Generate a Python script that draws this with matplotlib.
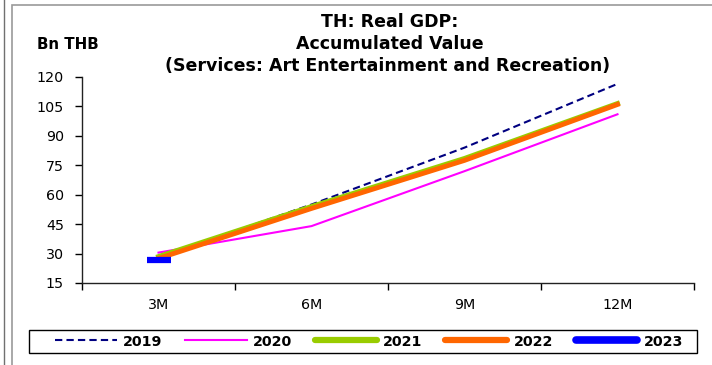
import matplotlib.pyplot as plt
import numpy as np
from matplotlib.patches import Rectangle
from matplotlib.lines import Line2D

plt.rcParams['font.family'] = ['DejaVu Sans']

categories = ["3M", "6M", "9M", "12M"]
v2019 = [28.0, 55.0, 84.0, 116.5]
v2020 = [30.5, 44.0, 72.0, 101.0]
v2021 = [28.5, 54.0, 78.5, 106.5]
v2022 = [27.5, 53.0, 77.5, 106.0]
v2023 = [26.5]
yticks = [15, 30, 45, 60, 75, 90, 105, 120]
years = ['2019', '2020', '2021', '2022', '2023']

W, H = 712, 365
fig = plt.figure(figsize=(W / 100, H / 100), dpi=100)

# frame bits around the chart
fig.add_artist(Rectangle((12 / W, -0.1), 1.2, 1 - 5 / H + 0.1, transform=fig.transFigure,
                         fill=False, edgecolor='#9a9a9a', linewidth=1.2))
fig.add_artist(Line2D([4 / W, 4 / W], [0, 1], transform=fig.transFigure,
                      color='#707070', linewidth=1.0))

ax = fig.add_axes([82 / W, 1 - 283 / H, (694 - 82) / W, (283 - 77) / H])
x = np.arange(len(categories))

ax.plot(x, v2019, color='#000080', lw=1.5, ls=(0, (3.5, 2)))
ax.plot(x, v2020, color='#FF00FF', lw=1.5)
ax.plot(x, v2021, color='#99CC00', lw=3.5)
ax.plot(x, v2022, color='#FF6600', lw=3.5)
ax.plot(x[:len(v2023)], v2023, color='#0000FF', lw=4.5, marker='_', ms=17, mew=4.5)

ax.set_xlim(-0.5, len(categories) - 0.5)
ax.set_ylim(15, 120)
ax.set_yticks(yticks)
ax.set_xticks(x)
ax.set_xticklabels(categories)
ax.set_xticks(np.arange(-0.5, len(categories)), minor=True)
ax.tick_params(axis='x', which='major', length=0, pad=11, labelsize=10.3)
ax.tick_params(axis='x', which='minor', length=5, direction='out', width=1)
ax.tick_params(axis='y', length=5, direction='out', width=1, labelsize=10.3, pad=8)
for s in ['top', 'right']:
    ax.spines[s].set_visible(False)
for s in ['left', 'bottom']:
    ax.spines[s].set_linewidth(1.0)
    ax.spines[s].set_color('#222222')

fig.text(390 / W, 1 - 27 / H, "TH: Real GDP:", ha='center', va='baseline',
         fontsize=12.5, fontweight='bold')
fig.text(390 / W, 1 - 49 / H, "Accumulated Value", ha='center', va='baseline',
         fontsize=12.5, fontweight='bold')
fig.text(388 / W, 1 - 71 / H, "(Services: Art Entertainment and Recreation)",
         ha='center', va='baseline', fontsize=12.5, fontweight='bold')
fig.text(68 / W, 1 - 49 / H, "Bn THB", ha='center', va='baseline',
         fontsize=10.8, fontweight='bold')

# legend box drawn separately so the entries can sit inset like the original
fig.add_artist(Rectangle((29 / W, 1 - 353 / H), 668 / W, 23 / H, transform=fig.transFigure,
                         fill=False, edgecolor='black', linewidth=1.0))
handles = [Line2D([], [], color='#000080', lw=1.5, ls=(0, (3.5, 2))),
           Line2D([], [], color='#FF00FF', lw=1.5),
           Line2D([], [], color='#99CC00', lw=4.5, solid_capstyle='round'),
           Line2D([], [], color='#FF6600', lw=4.5, solid_capstyle='round'),
           Line2D([], [], color='#0000FF', lw=5.5, solid_capstyle='round')]
leg = fig.legend(handles, years, ncol=5, loc='center', mode='expand',
                 bbox_to_anchor=(55 / W, 1 - 353 / H, 628 / W, 23 / H),
                 frameon=False, prop={'weight': 'bold', 'size': 10.3},
                 handlelength=4.3, columnspacing=1.85, handletextpad=0.45,
                 borderpad=0, borderaxespad=0)

fig.savefig('out.png', dpi=100)
